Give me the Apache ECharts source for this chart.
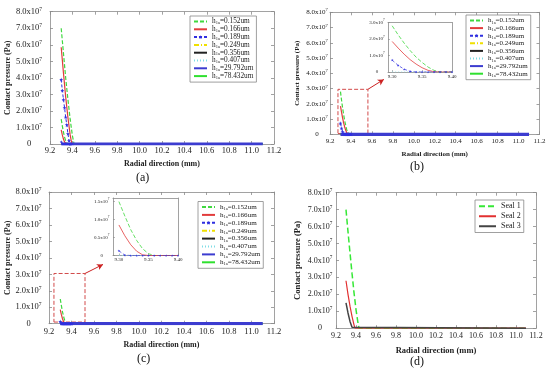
<!DOCTYPE html>
<html><head><meta charset="utf-8">
<script src="https://cdn.jsdelivr.net/npm/echarts@6/dist/echarts.min.js"></script>
<style>html,body{margin:0;padding:0;background:#fff}#c{width:550px;height:378px}</style>
</head><body><div id="c"></div>
<script>
const FONT = 'Liberation Serif';
const S = 1e7; // pressure values below are in units of 1e7 Pa

// ---- axes ----
const xMin = 9.2, xMax = 11.2, xStep = 0.2;
const yMax = 8, yStep = 1;
const insetXTicks = [9.30, 9.35, 9.40];
const insetBYTicks = [0, 1.0, 2.0, 3.0];
const insetCYTicks = [0, 0.5, 1.0, 1.5];

// ---- legend names ----
const H_NAMES = ['h1a=0.152um','h1a=0.166um','h1a=0.189um','h1a=0.249um','h1a=0.356um','h1a=0.407um','h1a=29.792um','h1a=78.432um'];
const SEAL_NAMES = ['Seal 1','Seal 2','Seal 3'];

// ---- panel (a) ----
const a152X = [9.30, 9.32, 9.34, 9.36, 9.38, 9.40, 9.415];
const a152Y = [7.0, 5.5, 4.0, 2.7, 1.5, 0.5, 0];
const a166X = [9.30, 9.32, 9.34, 9.36, 9.38, 9.395];
const a166Y = [5.85, 4.3, 2.85, 1.6, 0.55, 0];
const a189X = [9.30, 9.31, 9.32, 9.33, 9.34, 9.35, 9.36, 9.37, 9.38];
const a189Y = [3.9, 3.24, 2.7, 2.19, 1.62, 1.16, 0.62, 0.2, 0];

// ---- panel (c) (also small curves in a) ----
const cX = [9.30, 9.31, 9.32, 9.33, 9.34, 9.35, 9.36, 9.37, 9.38, 9.39, 9.40];
const c152Y = [1.5, 1.1, 0.72, 0.42, 0.19, 0.05, 0, 0, 0, 0, 0];
const c166Y = [0.85, 0.55, 0.3, 0.12, 0.02, 0, 0, 0, 0, 0, 0];
const c189Y = [0.13, 0.01, 0, 0, 0, 0, 0, 0, 0, 0, 0];

// ---- panel (b) ----
const bX = [9.30, 9.31, 9.32, 9.33, 9.34, 9.35, 9.36, 9.37, 9.38, 9.39, 9.40];
const b152Y = [2.8, 2.25, 1.75, 1.3, 0.9, 0.58, 0.3, 0.1, 0, 0, 0];
const b166Y = [1.85, 1.45, 1.08, 0.75, 0.48, 0.26, 0.1, 0.02, 0, 0, 0];
const b189Y = [0.72, 0.4, 0.17, 0.04, 0, 0, 0, 0, 0, 0, 0];

// ---- zero tail (remaining film thicknesses) ----
const tailX = [9.30, 11.10];
const tailY = [0, 0];

// ---- panel (d) ----
const d1X = [9.30, 9.32, 9.34, 9.36, 9.38, 9.40, 9.42, 9.43, 11.10];
const d1Y = [7.0, 5.7, 4.45, 3.25, 2.1, 1.1, 0.3, 0, 0];
const d2X = [9.30, 9.32, 9.34, 9.36, 9.38, 9.39, 11.10];
const d2Y = [2.8, 2.0, 1.3, 0.7, 0.2, 0, 0];
const d3X = [9.30, 9.32, 9.34, 9.36, 9.37, 11.10];
const d3Y = [1.5, 0.9, 0.4, 0.05, 0, 0];

// ---- zoom boxes / arrows (data coords: x mm, y 1e7 Pa) ----
const bBox = [9.276, 0.05, 9.562, 2.95];
const bArrow = [9.562, 2.95, 9.714, 3.6];
const cBox = [9.244, 0.1, 9.52, 3.05];
const cArrow = [9.52, 3.05, 9.68, 3.6];

// ================= layout =================
const GRIDS = [
  {left:50, top:11.7, width:224, height:132.3},
  {left:330, top:12.3, width:209.5, height:122},
  {left:49, top:192, width:225, height:131.7},
  {left:336, top:192.7, width:200, height:135.5},
  {left:388, top:22.5, width:64, height:49.5},
  {left:113, top:198, width:65, height:57.5}
];
const MAIN = [
  {tf:8.5, nf:8, ym:21, yg:31, xm:2.5, xg:16},
  {tf:7, nf:7, ym:13, yg:29, xm:3.5, xg:16},
  {tf:8.5, nf:8, ym:20.5, yg:31.5, xm:4, xg:17},
  {tf:8, nf:8.5, ym:16, yg:33.5, xm:3.4, xg:18}
];
const AX = '#8a8a8a', TXT = '#222';

function supFmt(tf) {
  return {
    m: {fontFamily: FONT, fontSize: tf, lineHeight: tf + 2, color: TXT},
    p: {fontFamily: FONT, fontSize: tf * 0.65, lineHeight: tf * 0.65, verticalAlign: 'top', color: TXT}
  };
}
const xAxes = [], yAxes = [];
function addAxes(gi, xc, yc) {
  const common = {type:'value', gridIndex: gi, splitLine:{show:false},
    axisLine:{show:true, onZero:false, lineStyle:{color:AX, width:0.8}}};
  xAxes.push(Object.assign({}, common, xc.bottom));
  xAxes.push(Object.assign({}, common, xc.top));
  yAxes.push(Object.assign({}, common, yc.left));
  yAxes.push(Object.assign({}, common, yc.right));
}
MAIN.forEach((m, gi) => {
  const tick = {show:true, inside:true, length:3, lineStyle:{color:AX, width:0.8}};
  const xs = {min:xMin, max:xMax, interval:xStep};
  const ys = {min:0, max:yMax * S, interval:yStep * S};
  addAxes(gi, {
    bottom: Object.assign({position:'bottom', axisTick:tick,
      axisLabel:{margin:m.xm, fontFamily:FONT, fontSize:m.tf, color:TXT, formatter:v => v.toFixed(1), showMinLabel:true, showMaxLabel:true},
      name:'Radial direction (mm)', nameLocation:'middle', nameGap:m.xg,
      nameTextStyle:{fontFamily:FONT, fontSize:m.nf, fontWeight:'bold', color:TXT}}, xs),
    top: Object.assign({position:'top', axisTick:tick, axisLabel:{show:false}}, xs)
  }, {
    left: Object.assign({position:'left', axisTick:tick,
      axisLabel:{margin:m.ym, align:'center', showMinLabel:true, showMaxLabel:true,
        formatter: v => v === 0 ? '{m|0}' : '{m|' + (v / S).toFixed(1) + 'x10}{p|7}', rich: supFmt(m.tf)},
      name:'Contact pressure (Pa)', nameLocation:'middle', nameGap:m.yg,
      nameTextStyle:{fontFamily:FONT, fontSize:m.nf, fontWeight:'bold', color:TXT}}, ys),
    right: Object.assign({position:'right', axisTick:tick, axisLabel:{show:false}}, ys)
  });
});
// insets
[[4, 9.293, 3.0, insetBYTicks, 11], [5, 9.29, 1.6, insetCYTicks, 11.3]].forEach(([gi, xmin, ymax, yt, ym]) => {
  const tick = {show:true, inside:true, length:2, lineStyle:{color:AX, width:0.6}};
  const xs = {min:xmin, max:9.40};
  const ys = {min:0, max:ymax * S};
  addAxes(gi, {
    bottom: Object.assign({position:'bottom', axisTick:Object.assign({customValues:insetXTicks}, tick),
      axisLabel:{customValues:insetXTicks, margin:2, fontFamily:FONT, fontSize:5, color:TXT, formatter:v => v.toFixed(2)}}, xs),
    top: Object.assign({position:'top', axisTick:{show:false}, axisLabel:{show:false}}, xs)
  }, {
    left: Object.assign({position:'left', axisTick:Object.assign({customValues:yt.map(v => v * S)}, tick),
      axisLabel:{customValues:yt.map(v => v * S), margin:ym, align:'center',
        formatter: v => v === 0 ? '{m|0}' : '{m|' + (v / S).toFixed(1) + 'x10}{p|7}', rich: supFmt(5)}}, ys),
    right: Object.assign({position:'right', axisTick:{show:false}, axisLabel:{show:false}}, ys)
  });
});

// ================= series =================
const STAR = 'path://M50,0 L61,35 L98,35 L68,57 L79,91 L50,70 L21,91 L32,57 L2,35 L39,35 Z';
const STY = {
  'h1a=0.152um': {color:'#3fd83f', type:[4,2], width:1.2},
  'h1a=0.166um': {color:'#e23c3c', type:'solid', width:1.2},
  'h1a=0.189um': {color:'#2f2fe0', type:[3,2], width:1},
  'h1a=0.249um': {color:'#f0e000', type:[5,2,1,2], width:1},
  'h1a=0.356um': {color:'#222222', type:'solid', width:1},
  'h1a=0.407um': {color:'#7fdde6', type:[1,2], width:1},
  'h1a=29.792um': {color:'#3c3cd0', type:'solid', width:3.2},
  'h1a=78.432um': {color:'#2fe02f', type:'solid', width:2},
  'Seal 1': {color:'#36e836', type:[6,3], width:1.5},
  'Seal 2': {color:'#e23030', type:'solid', width:1.2},
  'Seal 3': {color:'#444444', type:'solid', width:1.5}
};
const series = [];
function line(name, xs, ys, gi, extra) {
  const st = STY[name];
  const s = {
    type:'line', name, xAxisIndex: gi * 2, yAxisIndex: gi * 2,
    data: xs.map((x, i) => [x, ys[i] * S]),
    symbol: 'none', silent: true, clip: true,
    lineStyle: {color: st.color, type: st.type, width: (extra && extra.w) || st.width},
    itemStyle: {color: st.color}
  };
  if (name === 'h1a=0.189um') { s.symbol = STAR; s.symbolSize = (extra && extra.ss) || 4; s.showSymbol = true; }
  if (extra && extra.mark) Object.assign(s, extra.mark);
  series.push(s);
}
function tails(gi) {
  ['h1a=0.249um','h1a=0.356um','h1a=0.407um','h1a=78.432um','h1a=29.792um'].forEach(n => line(n, tailX, tailY, gi));
}
function zoomMarks(box, arr) {
  return {
    markArea: {silent:true, itemStyle:{color:'rgba(0,0,0,0)', borderColor:'#d24a4a', borderWidth:1, borderType:[4,2]},
      data:[[{coord:[box[0], box[1] * S]}, {coord:[box[2], box[3] * S]}]]},
    markLine: {silent:true, symbol:['none','arrow'], symbolSize:[5,6], label:{show:false},
      lineStyle:{color:'#cc2222', width:1, type:'solid'},
      data:[[{coord:[arr[0], arr[1] * S]}, {coord:[arr[2], arr[3] * S]}]]}
  };
}
// (a)
line('h1a=0.152um', a152X, a152Y, 0);
line('h1a=0.166um', a166X, a166Y, 0);
line('h1a=0.189um', a189X, a189Y, 0);
line('h1a=0.152um', cX, c152Y, 0);
line('h1a=0.166um', cX, c166Y, 0);
line('h1a=0.189um', cX, c189Y, 0, {ss:3});
tails(0);
// (b)
line('h1a=0.152um', bX, b152Y, 1, {mark: zoomMarks(bBox, bArrow)});
line('h1a=0.166um', bX, b166Y, 1);
line('h1a=0.189um', bX, b189Y, 1);
tails(1);
// (c)
line('h1a=0.152um', cX, c152Y, 2, {mark: zoomMarks(cBox, cArrow)});
line('h1a=0.166um', cX, c166Y, 2);
line('h1a=0.189um', cX, c189Y, 2);
tails(2);
// (d)
line('Seal 1', d1X, d1Y, 3);
line('Seal 2', d2X, d2Y, 3);
line('Seal 3', d3X, d3Y, 3);
// insets
line('h1a=0.407um', tailX, tailY, 4, {w:0.8});
line('h1a=0.152um', bX, b152Y, 4, {w:0.8});
line('h1a=0.166um', bX, b166Y, 4, {w:0.8});
line('h1a=0.189um', bX, b189Y, 4, {w:0.7, ss:2.5});
line('h1a=0.407um', tailX, tailY, 5, {w:0.8});
line('h1a=0.152um', cX, c152Y, 5, {w:0.8});
line('h1a=0.166um', cX, c166Y, 5, {w:0.8});
line('h1a=0.189um', cX, c189Y, 5, {w:0.7, ss:2.5});

// ================= legends =================
function legRich(fs) {
  return {
    n: {fontFamily: FONT, fontSize: fs, lineHeight: 8, color: TXT},
    s: {fontFamily: FONT, fontSize: fs * 0.62, lineHeight: fs * 0.62, verticalAlign: 'bottom', color: TXT}
  };
}
function legData(names) {
  return names.map(n => n === 'h1a=0.189um' ? {name: n, itemStyle: {opacity: 1}} : {name: n});
}
function hLegend(left, top, fs, gap) {
  return {
    orient:'vertical', left, top, data: legData(H_NAMES), selectedMode:false,
    itemWidth:13, itemHeight:5, itemGap:gap, padding:[2,3,2,3],
    borderColor:'#888', borderWidth:0.8, backgroundColor:'#fff',
    itemStyle: {opacity: 0},
    formatter: n => '{n|h}{s|1a}{n|' + n.slice(3) + '}',
    textStyle: {fontFamily: FONT, fontSize: fs, color: TXT, rich: legRich(fs)}
  };
}
const legends = [
  hLegend(190, 16, 7.3, 0.3),
  hLegend(466, 15, 7, 0.1),
  hLegend(198, 201.5, 7.1, 0.4),
  {orient:'vertical', left:475, top:200, data: SEAL_NAMES, selectedMode:false,
   itemWidth:17, itemHeight:6, itemGap:1.5, padding:[2,3,2,3],
   borderColor:'#888', borderWidth:0.8, backgroundColor:'#fff',
   itemStyle: {opacity: 0},
   textStyle:{fontFamily:FONT, fontSize:8, color:TXT, lineHeight:8.5}}
];

const tStyle = {fontFamily:FONT, fontSize:12, fontWeight:'normal', color:'#111'};
const option = {
  animation:false,
  backgroundColor:'#fff',
  textStyle:{fontFamily:FONT},
  title:[
    {text:'(a)', left:136, top:172, padding:0, textStyle:tStyle},
    {text:'(b)', left:410, top:161, padding:0, textStyle:tStyle},
    {text:'(c)', left:137, top:353, padding:0, textStyle:tStyle},
    {text:'(d)', left:410, top:356, padding:0, textStyle:tStyle}
  ],
  grid: GRIDS.map((g, i) => Object.assign({show: i >= 4, backgroundColor:'#fff', borderWidth:0}, g)),
  xAxis: xAxes,
  yAxis: yAxes,
  legend: legends,
  series
};
const chart = echarts.init(document.getElementById('c'), null, {renderer:'canvas'});
chart.setOption(option);
</script>
</body></html>
